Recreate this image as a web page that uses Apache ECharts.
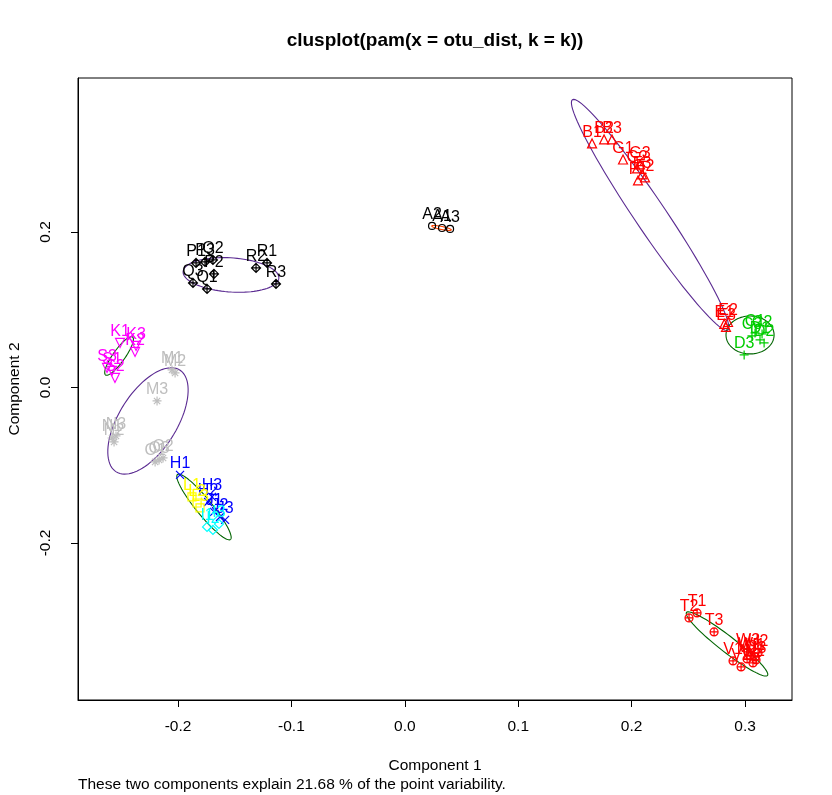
<!DOCTYPE html>
<html>
<head>
<meta charset="utf-8">
<script src="https://cdn.jsdelivr.net/npm/echarts@6/dist/echarts.min.js"></script>
<style>
  html, body { margin: 0; padding: 0; background: #fff; }
  #chart { width: 832px; height: 795px; }
</style>
</head>
<body>
<div id="chart"></div>
<script>
// tick values of the two components
var xTicks = [-0.2, -0.1, 0.0, 0.1, 0.2, 0.3];
var yTicks = [-0.2, 0.0, 0.2];

// points: [label, component 1, component 2]
var ptsA = [['A2', 0.0240, 0.2077], ['A1', 0.0328, 0.2051], ['A3', 0.0399, 0.2039]];
var ptsPQR = [
    ['P1', -0.1841, 0.1601], ['P3', -0.1762, 0.1614], ['Q2', -0.1692, 0.1640],
    ['P2', -0.1683, 0.1460], ['Q3', -0.1868, 0.1344], ['Q1', -0.1744, 0.1267],
    ['R2', -0.1312, 0.1537], ['R1', -0.1215, 0.1601], ['R3', -0.1136, 0.1331]
];
var ptsBGFE = [
    ['B1', 0.1651, 0.3138], ['B2', 0.1757, 0.3190], ['B3', 0.1827, 0.3190],
    ['G1', 0.1924, 0.2932], ['G2', 0.2048, 0.2817], ['G3', 0.2074, 0.2868],
    ['F1', 0.2056, 0.2662], ['F2', 0.2118, 0.2701], ['F3', 0.2092, 0.2740],
    ['E1', 0.2817, 0.0817], ['E2', 0.2850, 0.0842], ['E3', 0.2832, 0.0778]
];
var ptsCD = [
    ['C1', 0.3088, 0.0701], ['C2', 0.3150, 0.0688], ['C3', 0.3061, 0.0662],
    ['D1', 0.3132, 0.0611], ['D2', 0.3168, 0.0572], ['D3', 0.2992, 0.0418]
];
var ptsTUVW = [
    ['T1', 0.2577, -0.2900], ['T2', 0.2506, -0.2965], ['T3', 0.2727, -0.3145],
    ['V1', 0.2894, -0.3518], ['V2', 0.2965, -0.3595], ['V3', 0.3018, -0.3492],
    ['W1', 0.3044, -0.3453], ['W2', 0.3070, -0.3543], ['W3', 0.3027, -0.3402],
    ['U1', 0.3088, -0.3466], ['U2', 0.3115, -0.3415], ['U3', 0.3097, -0.3505]
];
var ptsKS = [
    ['K1', -0.2511, 0.0572], ['K2', -0.2379, 0.0457], ['K3', -0.2370, 0.0534],
    ['S1', -0.2582, 0.0212], ['S2', -0.2556, 0.0122], ['S3', -0.2626, 0.0251]
];
var ptsMNO = [
    ['M1', -0.2053, 0.0225], ['M2', -0.2026, 0.0187], ['M3', -0.2185, -0.0174],
    ['N1', -0.2582, -0.0650], ['N2', -0.2564, -0.0701], ['N3', -0.2547, -0.0624],
    ['O1', -0.2202, -0.0958], ['O2', -0.2132, -0.0907], ['O3', -0.2167, -0.0932]
];
var ptsHJ = [
    ['H1', -0.1982, -0.1125], ['H2', -0.1735, -0.1473], ['H3', -0.1700, -0.1408],
    ['J1', -0.1682, -0.1601], ['J2', -0.1630, -0.1666], ['J3', -0.1585, -0.1704]
];
var ptsI = [['I1', -0.1744, -0.1794], ['I2', -0.1692, -0.1833], ['I3', -0.1639, -0.1756]];
var ptsL = [['L1', -0.1877, -0.1408], ['L2', -0.1832, -0.1486], ['L3', -0.1806, -0.1550]];

// cluster ellipses: [centre x, centre y, axis1 x, axis1 y, axis2 x, axis2 y]
var ellipses = [
    [0.2163, 0.2219, 0.0685, -0.1482, 0.01133, 0.01115],
    [0.3044, 0.0675, 0.0212, 0.0, 0.0, 0.0244],
    [0.2841, -0.3299, 0.0357, -0.0405, 0.00433, 0.0081],
    [0.0324, 0.2051, 0.00864, -0.00257, 0.00035, 0.0019],
    [-0.1533, 0.1447, 0.0422, -0.00425, 0.00104, 0.0219],
    [-0.2520, 0.0405, 0.0119, 0.0244, 0.0043, -0.0045],
    [-0.2265, -0.0431, 0.0280, 0.0655, 0.0217, -0.0198],
    [-0.1771, -0.1537, 0.02335, -0.0418, 0.00546, 0.00651]
];
var ellipseColors = ['#5a2a91', '#006400', '#006400', '#ff4500', '#5a2a91', '#006400', '#5a2a91', '#006400'];

var FONT = '"Liberation Sans", Arial, sans-serif';

// 各组点的样式
var groups = [
    { pts: ptsA, color: '#000000', symbol: 'circle', size: 7 },
    { pts: ptsPQR, color: '#000000', symbol: 'path://M5,0L10,5L5,10L0,5ZM0,5L10,5M5,0L5,10', size: 9 },
    { pts: ptsBGFE, color: '#ff0000', symbol: 'triangle', size: 9 },
    { pts: ptsCD, color: '#00cd00', symbol: 'path://M0,5L10,5M5,0L5,10', size: 9 },
    { pts: ptsTUVW, color: '#ff0000', symbol: 'path://M0,5A5,5,0,1,1,10,5A5,5,0,1,1,0,5ZM0,5L10,5M5,0L5,10', size: 8 },
    { pts: ptsKS, color: '#ff00ff', symbol: 'path://M0,0L10,0L5,9Z', size: 9 },
    { pts: ptsMNO, color: '#bebebe', symbol: 'path://M0,5L10,5M5,0L5,10M1.5,1.5L8.5,8.5M8.5,1.5L1.5,8.5', size: 9 },
    { pts: ptsHJ, color: '#0000ff', symbol: 'path://M0,0L10,10M10,0L0,10', size: 8 },
    { pts: ptsI, color: '#00ffff', symbol: 'diamond', size: 9 },
    { pts: ptsL, color: '#ffff00', symbol: 'rect', size: 8 }
];

var series = [];

series.push({
    type: 'custom',
    silent: true,
    z: 1,
    dimensions: ['cx', 'cy', 'ux', 'uy', 'vx', 'vy'],
    encode: { x: 0, y: 1 },
    data: ellipses,
    renderItem: function (params, api) {
        var cx = api.value(0), cy = api.value(1);
        var ux = api.value(2), uy = api.value(3);
        var vx = api.value(4), vy = api.value(5);
        var points = [];
        for (var i = 0; i <= 90; i++) {
            var t = 2 * Math.PI * i / 90;
            points.push(api.coord([
                cx + ux * Math.cos(t) + vx * Math.sin(t),
                cy + uy * Math.cos(t) + vy * Math.sin(t)
            ]));
        }
        return {
            type: 'polyline',
            shape: { points: points },
            style: { stroke: ellipseColors[params.dataIndex], fill: null, lineWidth: 1.1 }
        };
    }
});

groups.forEach(function (g) {
    series.push({
        type: 'scatter',
        silent: true,
        z: 2,
        symbol: g.symbol,
        symbolSize: g.size,
        itemStyle: { color: 'transparent', borderColor: g.color, borderWidth: 1.2, opacity: 1 },
        label: {
            show: true,
            position: 'inside',
            offset: [0, -11],
            color: g.color,
            fontFamily: FONT,
            fontSize: 16,
            formatter: function (p) { return p.data[0]; }
        },
        encode: { x: 1, y: 2 },
        data: g.pts
    });
});

var myChart = echarts.init(document.getElementById('chart'), null, { renderer: 'canvas' });
var option = {
    animation: false,
    backgroundColor: '#ffffff',
    grid: {
        left: 78, right: 40, top: 78, bottom: 95,
        show: true, borderColor: '#000', borderWidth: 1,
        containLabel: false,
        outerBoundsMode: 'none'
    },
    graphic: [
        {
            type: 'text', x: 435, y: 41,
            style: {
                text: 'clusplot(pam(x = otu_dist, k = k))',
                fontFamily: FONT, fontSize: 19, fontWeight: 'bold',
                fill: '#000', textAlign: 'center', textVerticalAlign: 'middle'
            }
        },
        {
            type: 'text', x: 78, y: 785,
            style: {
                text: 'These two components explain 21.68 % of the point variability.',
                fontFamily: FONT, fontSize: 15.5,
                fill: '#000', textAlign: 'left', textVerticalAlign: 'middle'
            }
        }
    ],
    xAxis: {
        type: 'value',
        min: -0.2882,
        max: 0.3414,
        name: 'Component 1',
        nameLocation: 'middle',
        nameGap: 58,
        nameTextStyle: { fontFamily: FONT, fontSize: 15.5, color: '#000' },
        splitLine: { show: false },
        axisLine: { show: true, onZero: false, lineStyle: { color: '#000' } },
        axisTick: { show: true, length: 7, customValues: xTicks, lineStyle: { color: '#000' } },
        axisLabel: {
            customValues: xTicks,
            margin: 19,
            fontFamily: FONT, fontSize: 15.5, color: '#000',
            formatter: function (v) { return v.toFixed(1); }
        }
    },
    yAxis: {
        type: 'value',
        min: -0.402,
        max: 0.398,
        name: 'Component 2',
        nameLocation: 'middle',
        nameRotate: 90,
        nameGap: 55,
        nameTextStyle: { fontFamily: FONT, fontSize: 15.5, color: '#000' },
        splitLine: { show: false },
        axisLine: { show: true, onZero: false, lineStyle: { color: '#000' } },
        axisTick: { show: true, length: 7, customValues: yTicks, lineStyle: { color: '#000' } },
        axisLabel: {
            customValues: yTicks,
            rotate: 90,
            margin: 24,
            fontFamily: FONT, fontSize: 15.5, color: '#000',
            formatter: function (v) { return v.toFixed(1); }
        }
    },
    series: series
};
myChart.setOption(option);
</script>
</body>
</html>
